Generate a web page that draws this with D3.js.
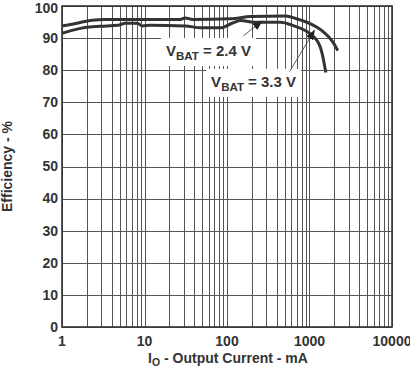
<!DOCTYPE html>
<html>
<head>
<meta charset="utf-8">
<script src="https://cdn.jsdelivr.net/npm/d3@7"></script>
<style>
  html, body { margin: 0; padding: 0; background: #fff; }
  svg { display: block; }
  text { font-family: "Liberation Sans", Arial, sans-serif; font-weight: bold; fill: #333; }
</style>
</head>
<body>
<svg id="chart" width="410" height="369"></svg>
<script>
// ---- Data ----
const xTicks = [1, 10, 100, 1000, 10000];
const yTicks = [0, 10, 20, 30, 40, 50, 60, 70, 80, 90, 100];

// V_BAT = 3.3 V (upper curve)
const current33 = [1, 1.32, 1.9, 3.15, 27.2, 31.2, 38.1, 110, 193, 515, 682, 1035, 1495, 1905, 2205];
const eff33     = [93.8, 94.3, 95.2, 95.8, 95.8, 96.3, 95.8, 96.0, 96.7, 96.9, 96.1, 94.4, 91.8, 88.9, 86.1];

// V_BAT = 2.4 V (lower curve)
const current24 = [1, 1.32, 1.9, 2.9, 4.8, 5.8, 8.2, 9.4, 11.7, 31.3, 47.7, 83.6, 117, 146, 222, 447, 646, 900, 1093, 1257, 1371, 1452, 1532, 1577];
const eff24     = [91.5, 92.4, 93.3, 93.7, 94.0, 94.6, 94.6, 93.8, 94.0, 93.8, 93.2, 93.2, 94.7, 95.5, 94.9, 94.9, 93.8, 92.3, 90.7, 88.9, 86.7, 84.2, 81.1, 79.3];

// Annotations (data coordinates)
const labels = ["2.4 V", "3.3 V"];
const labelCurrent = [59.6, 210];
const labelEff = [86.1, 76.5];
const arrowFromCurrent = [158, 575];
const arrowFromEff = [90.7, 79.6];
const arrowToCurrent = [270, 1159];
const arrowToEff = [95.4, 92.6];

// ---- Layout ----
const svg = d3.select("#chart");
const mLeft = 62, mRight = 392, mTop = 6, mBottom = 327;

const x = d3.scaleLog().domain([1, 10000]).range([mLeft, mRight]);
const y = d3.scaleLinear().domain([0, 100]).range([mBottom, mTop]);

// minor/major vertical grid
const vGrid = [];
for (let d = 1; d < 10000; d *= 10) for (let k = 1; k <= 9; k++) vGrid.push(d * k);
vGrid.push(10000);

const grid = svg.append("g");
grid.selectAll("line.v").data(vGrid).enter().append("line")
  .attr("x1", d => Math.round(x(d)) + 0.5).attr("x2", d => Math.round(x(d)) + 0.5)
  .attr("y1", mTop).attr("y2", mBottom)
  .attr("stroke", "#555").attr("stroke-width", 1);
grid.selectAll("line.h").data(yTicks).enter().append("line")
  .attr("x1", mLeft).attr("x2", mRight)
  .attr("y1", d => Math.round(y(d)) + 0.5).attr("y2", d => Math.round(y(d)) + 0.5)
  .attr("stroke", "#555").attr("stroke-width", 1);

// frame
svg.append("rect").attr("x", mLeft).attr("y", mTop)
  .attr("width", mRight - mLeft).attr("height", mBottom - mTop)
  .attr("fill", "none").attr("stroke", "#333").attr("stroke-width", 1.6);

// tick labels
svg.append("g").selectAll("text").data(yTicks).enter().append("text")
  .attr("x", mLeft - 4).attr("y", d => Math.max(y(d) + 4.8, 13))
  .attr("text-anchor", "end").attr("font-size", 14).text(d => d);
svg.append("g").selectAll("text").data(xTicks).enter().append("text")
  .attr("x", d => x(d)).attr("y", mBottom + 19)
  .attr("text-anchor", "middle").attr("font-size", 14).text(d => d);

// axis titles
const xt = svg.append("text").attr("x", 228).attr("y", 363)
  .attr("text-anchor", "middle").attr("font-size", 14);
xt.append("tspan").text("I");
xt.append("tspan").attr("font-size", 10.5).attr("dy", 3).text("O");
xt.append("tspan").attr("dy", -3).text(" - Output Current - mA");

svg.append("text").attr("transform", `translate(12,${(mTop + mBottom) / 2}) rotate(-90)`)
  .attr("text-anchor", "middle").attr("font-size", 14).text("Efficiency - %");

// curves
const line = d3.line().x(d => x(d[0])).y(d => y(d[1])).curve(d3.curveMonotoneX);
const s33 = d3.zip(current33, eff33);
const s24 = d3.zip(current24, eff24);
[s33, s24].forEach(s => {
  svg.append("path").datum(s).attr("d", line)
    .attr("fill", "none").attr("stroke", "#333").attr("stroke-width", 3)
    .attr("stroke-linejoin", "round");
});

// annotation labels with white boxes
labels.forEach((lab, i) => {
  const cx = x(labelCurrent[i]), cy = y(labelEff[i]);
  const g = svg.append("g");
  const t = g.append("text").attr("x", cx).attr("y", cy).attr("dy", "0.36em")
    .attr("text-anchor", "middle").attr("font-size", 15);
  t.append("tspan").text("V");
  t.append("tspan").attr("font-size", 11.5).attr("dy", 4).text("BAT");
  t.append("tspan").attr("dy", -4).text(" = " + lab);
  const bb = t.node().getBBox();
  g.insert("rect", "text").attr("x", bb.x - 5).attr("y", bb.y - 4)
    .attr("width", bb.width + 10).attr("height", bb.height + 8).attr("fill", "#fff");
});

// arrows
const defs = svg.append("defs");
defs.append("marker").attr("id", "ah").attr("viewBox", "0 0 10 10")
  .attr("refX", 10).attr("refY", 5).attr("markerWidth", 10).attr("markerHeight", 10)
  .attr("markerUnits", "userSpaceOnUse").attr("orient", "auto")
  .append("path").attr("d", "M0,1 L10,5 L0,9 Z").attr("fill", "#222");
labels.forEach((lab, i) => {
  svg.append("line")
    .attr("x1", x(arrowFromCurrent[i])).attr("y1", y(arrowFromEff[i]))
    .attr("x2", x(arrowToCurrent[i])).attr("y2", y(arrowToEff[i]))
    .attr("stroke", "#333").attr("stroke-width", 0.8).attr("marker-end", "url(#ah)");
});
</script>
</body>
</html>
